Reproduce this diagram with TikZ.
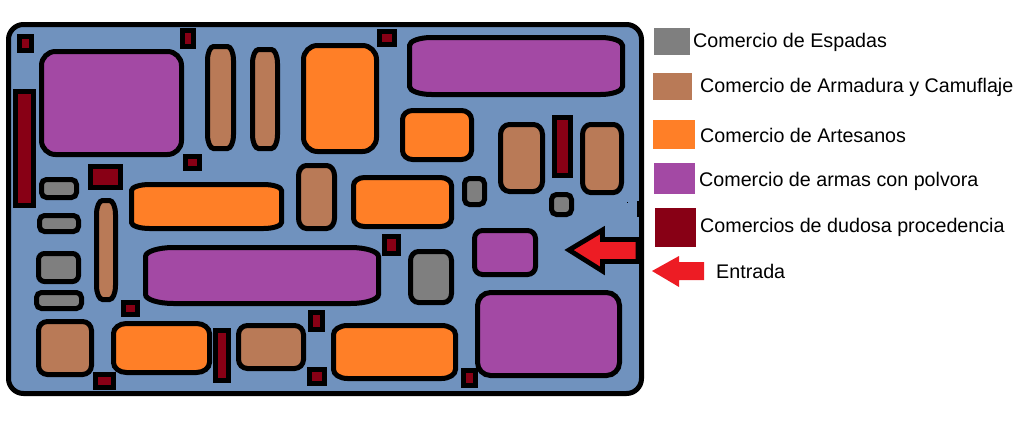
\documentclass[tikz,border=0pt]{standalone}
\usepackage{fontspec}
\setmainfont{Liberation Sans}
\definecolor{fondo}{HTML}{7092BE}
\definecolor{espadas}{HTML}{7F7F7F}
\definecolor{armadura}{HTML}{B97A57}
\definecolor{artesanos}{HTML}{FF7F27}
\definecolor{polvora}{HTML}{A349A4}
\definecolor{dudosa}{HTML}{880015}
\definecolor{entrada}{HTML}{ED1C24}
\tikzset{
    tienda/.style={draw=black, line width=5pt, fill=#1},
    caja/.style={draw=black, line width=5pt, fill=dudosa, miter limit=10},
    muestra/.style={fill=#1, draw=none},
    rotulo/.style={anchor=base west, inner sep=0pt, font=\fontsize{19.7}{22}\selectfont},
}
% local con esquinas elipticas: color, borde exterior x1 y1 x2 y2, radios rx ry
\newcommand{\tienda}[7]{
    \pgfmathsetmacro{\xa}{#2+2.5}\pgfmathsetmacro{\ya}{#3+2.5}
    \pgfmathsetmacro{\xb}{#4-2.5}\pgfmathsetmacro{\yb}{#5-2.5}
    \pgfmathsetmacro{\kx}{0.45*#6}\pgfmathsetmacro{\ky}{0.45*#7}
    \draw[tienda=#1] ({\xa+#6},\ya) -- ({\xb-#6},\ya)
        .. controls ({\xb-\kx},\ya) and (\xb,{\ya+\ky}) .. (\xb,{\ya+#7})
        -- (\xb,{\yb-#7})
        .. controls (\xb,{\yb-\ky}) and ({\xb-\kx},\yb) .. ({\xb-#6},\yb)
        -- ({\xa+#6},\yb)
        .. controls ({\xa+\kx},\yb) and (\xa,{\yb-\ky}) .. (\xa,{\yb-#7})
        -- (\xa,{\ya+#7})
        .. controls (\xa,{\ya+\ky}) and ({\xa+\kx},\ya) .. ({\xa+#6},\ya) -- cycle;
}
% puesto rectangular, borde exterior x1 y1 x2 y2
\newcommand{\caja}[4]{
    \draw[caja] ({#1+2.5},{#2+2.5}) rectangle ({#3-2.5},{#4-2.5});
}
\begin{document}
\begin{tikzpicture}[x=1pt, y=-1pt]
    \useasboundingbox (0,0) rectangle (1033,423);

    % Recinto
    \draw[draw=black, line width=5pt, fill=fondo, rounded corners=15pt] (8.5,24.5) rectangle (641.5,393.5);
    \fill[black] (637,201) rectangle (641,217);
    \fill[black] (626.5,201.5) rectangle (628,203);

    % Espadas
    \tienda{espadas}{39}{177}{79}{200}{5}{5}
    \tienda{espadas}{37}{213}{81}{234}{5}{5}
    \tienda{espadas}{36}{251}{81}{284}{6}{6}
    \tienda{espadas}{34}{290}{84}{311}{5}{5}
    \tienda{espadas}{462}{176}{487}{207}{5}{5}
    \tienda{espadas}{549}{192}{574}{217}{5}{5}
    \tienda{espadas}{408}{249}{454}{305}{8}{9}

    % Armadura
    \tienda{armadura}{205}{44}{236}{151}{6}{14}
    \tienda{armadura}{250}{47}{280}{151}{6}{14}
    \tienda{armadura}{296}{163}{337}{231}{8}{10}
    \tienda{armadura}{94}{198}{118}{302}{6}{14}
    \tienda{armadura}{36}{319}{94}{377}{9}{9}
    \tienda{armadura}{236}{323}{306}{371}{9}{9}
    \tienda{armadura}{498}{122}{545}{194}{9}{10}
    \tienda{armadura}{580}{122}{624}{195}{8}{10}

    % Artesanos
    \tienda{artesanos}{301}{43}{379}{154}{14}{14}
    \tienda{artesanos}{129}{182}{284}{231}{18}{6}
    \tienda{artesanos}{111}{321}{212}{375}{13}{10}
    \tienda{artesanos}{400}{108}{474}{162}{10}{9}
    \tienda{artesanos}{351}{175}{454}{229}{11}{8}
    \tienda{artesanos}{331}{323}{458}{381}{14}{9}

    % Polvora
    \tienda{polvora}{39}{49}{184}{157}{14}{14}
    \tienda{polvora}{143}{245}{381}{306}{28}{9}
    \tienda{polvora}{407}{35}{625}{97}{22}{8}
    \tienda{polvora}{472}{228}{538}{277}{8}{8}
    \tienda{polvora}{475}{290}{622}{378}{13}{13}

    % Dudosa procedencia
    \caja{17}{34}{34}{53}
    \caja{180}{28}{196}{49}
    \caja{13}{89}{36}{208}
    \caja{183}{154}{202}{171}
    \caja{88}{164}{123}{190}
    \caja{121}{300}{140}{317}
    \caja{213}{328}{231}{383}
    \caja{308}{310}{325}{332}
    \caja{307}{367}{327}{386}
    \caja{93}{372}{116}{390}
    \caja{377}{29}{397}{47}
    \caja{552}{115}{573}{178}
    \caja{382}{234}{401}{256}
    \caja{461}{368}{478}{388}

    % Flecha de entrada
    \draw[draw=black, line width=4.8pt, fill=entrada, miter limit=10] (569,250) -- (602.5,230) -- (602.5,239.5)
        -- (638,239.5) -- (638,261.5) -- (602.5,261.5) -- (602.5,271) -- cycle;

    % Leyenda
    \fill[muestra=espadas] (654,28) rectangle (690,55);
    \fill[muestra=armadura] (653,73) rectangle (692,100);
    \fill[muestra=artesanos] (653,120) rectangle (695,149);
    \fill[muestra=polvora] (654,163) rectangle (695,194);
    \fill[muestra=dudosa] (655,208) rectangle (696,247);
    \fill[muestra=entrada] (652,271) -- (679,256) -- (679,262) -- (704,262)
        -- (704,280) -- (679,280) -- (679,287) -- cycle;

    \node[rotulo] (espadas) at (693,47) {Comercio de Espadas};
    \node[rotulo] (armadura) at (700,92) {Comercio de Armadura y Camuflaje};
    \node[rotulo] (artesanos) at (700,142) {Comercio de Artesanos};
    \node[rotulo] (polvora) at (699,186) {Comercio de armas con polvora};
    \node[rotulo] (dudosa) at (700,232) {Comercios de dudosa procedencia};
    \node[rotulo] (entrada) at (716,278) {Entrada};
\end{tikzpicture}
\end{document}
